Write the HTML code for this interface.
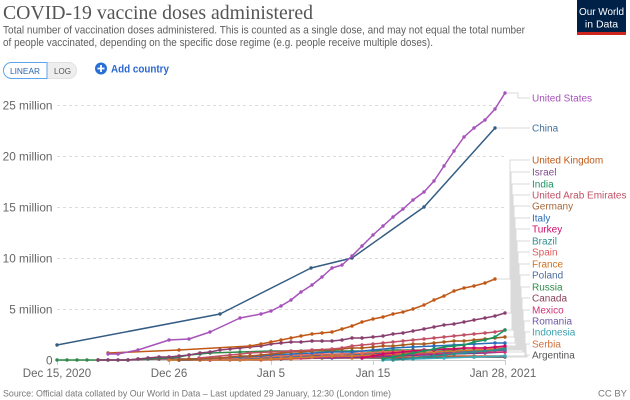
<!DOCTYPE html>
<html><head><meta charset="utf-8"><style>
html,body{margin:0;padding:0;background:#fff;}
svg{display:block;}
text{font-family:"Liberation Sans",sans-serif;}
</style></head><body>
<svg width="630" height="400" viewBox="0 0 630 400" xmlns="http://www.w3.org/2000/svg">
<defs>
<marker id="m1" markerWidth="4" markerHeight="4" refX="2" refY="2" markerUnits="userSpaceOnUse"><circle cx="2" cy="2" r="1.7" fill="#a652ba"/></marker>
<marker id="m2" markerWidth="4" markerHeight="4" refX="2" refY="2" markerUnits="userSpaceOnUse"><circle cx="2" cy="2" r="1.7" fill="#345d83"/></marker>
<marker id="m3" markerWidth="4" markerHeight="4" refX="2" refY="2" markerUnits="userSpaceOnUse"><circle cx="2" cy="2" r="1.7" fill="#c05917"/></marker>
<marker id="m4" markerWidth="4" markerHeight="4" refX="2" refY="2" markerUnits="userSpaceOnUse"><circle cx="2" cy="2" r="1.7" fill="#883f6f"/></marker>
<marker id="m5" markerWidth="4" markerHeight="4" refX="2" refY="2" markerUnits="userSpaceOnUse"><circle cx="2" cy="2" r="1.7" fill="#1a9460"/></marker>
<marker id="m6" markerWidth="4" markerHeight="4" refX="2" refY="2" markerUnits="userSpaceOnUse"><circle cx="2" cy="2" r="1.7" fill="#c15065"/></marker>
<marker id="m7" markerWidth="4" markerHeight="4" refX="2" refY="2" markerUnits="userSpaceOnUse"><circle cx="2" cy="2" r="1.7" fill="#a95a1e"/></marker>
<marker id="m8" markerWidth="4" markerHeight="4" refX="2" refY="2" markerUnits="userSpaceOnUse"><circle cx="2" cy="2" r="1.7" fill="#286bbb"/></marker>
<marker id="m9" markerWidth="4" markerHeight="4" refX="2" refY="2" markerUnits="userSpaceOnUse"><circle cx="2" cy="2" r="1.7" fill="#cf0a66"/></marker>
<marker id="m10" markerWidth="4" markerHeight="4" refX="2" refY="2" markerUnits="userSpaceOnUse"><circle cx="2" cy="2" r="1.7" fill="#2f8f8f"/></marker>
<marker id="m11" markerWidth="4" markerHeight="4" refX="2" refY="2" markerUnits="userSpaceOnUse"><circle cx="2" cy="2" r="1.7" fill="#e56e5a"/></marker>
<marker id="m12" markerWidth="4" markerHeight="4" refX="2" refY="2" markerUnits="userSpaceOnUse"><circle cx="2" cy="2" r="1.7" fill="#d57c2e"/></marker>
<marker id="m13" markerWidth="4" markerHeight="4" refX="2" refY="2" markerUnits="userSpaceOnUse"><circle cx="2" cy="2" r="1.7" fill="#4c6a9c"/></marker>
<marker id="m14" markerWidth="4" markerHeight="4" refX="2" refY="2" markerUnits="userSpaceOnUse"><circle cx="2" cy="2" r="1.7" fill="#2e8b4a"/></marker>
<marker id="m15" markerWidth="4" markerHeight="4" refX="2" refY="2" markerUnits="userSpaceOnUse"><circle cx="2" cy="2" r="1.7" fill="#8a3f5a"/></marker>
<marker id="m16" markerWidth="4" markerHeight="4" refX="2" refY="2" markerUnits="userSpaceOnUse"><circle cx="2" cy="2" r="1.7" fill="#d42d73"/></marker>
<marker id="m17" markerWidth="4" markerHeight="4" refX="2" refY="2" markerUnits="userSpaceOnUse"><circle cx="2" cy="2" r="1.7" fill="#6d3e91"/></marker>
<marker id="m18" markerWidth="4" markerHeight="4" refX="2" refY="2" markerUnits="userSpaceOnUse"><circle cx="2" cy="2" r="1.7" fill="#38aaba"/></marker>
<marker id="m19" markerWidth="4" markerHeight="4" refX="2" refY="2" markerUnits="userSpaceOnUse"><circle cx="2" cy="2" r="1.7" fill="#d0623a"/></marker>
<marker id="m20" markerWidth="4" markerHeight="4" refX="2" refY="2" markerUnits="userSpaceOnUse"><circle cx="2" cy="2" r="1.7" fill="#4a4a4a"/></marker>
</defs>

<!-- Header -->
<text x="3" y="19" font-family="Liberation Serif, serif" style="font-family:'Liberation Serif',serif" font-size="20" fill="#555" textLength="310" lengthAdjust="spacingAndGlyphs">COVID-19 vaccine doses administered</text>
<text x="3" y="33.5" font-size="11" fill="#5e5e5e" textLength="522" lengthAdjust="spacingAndGlyphs">Total number of vaccination doses administered. This is counted as a single dose, and may not equal the total number</text>
<text x="3" y="46" font-size="11" fill="#5e5e5e" textLength="430" lengthAdjust="spacingAndGlyphs">of people vaccinated, depending on the specific dose regime (e.g. people receive multiple doses).</text>

<!-- Logo -->
<rect x="577" y="0" width="49" height="35" fill="#002147"/>
<rect x="577" y="32" width="49" height="3" fill="#ce261e"/>
<text x="601.5" y="15" font-size="10.5" fill="#fff" text-anchor="middle" textLength="45" lengthAdjust="spacingAndGlyphs">Our World</text>
<text x="601.5" y="27.5" font-size="10.5" fill="#fff" text-anchor="middle">in Data</text>

<!-- Toggle -->
<rect x="3.5" y="62.5" width="73" height="16" rx="8" fill="#eeeeee" stroke="#e0e0e0"/>
<path d="M47,62.5 H11.5 A8,8 0 0 0 11.5,78.5 H47 Z" fill="#fff" stroke="#5fa4ea" stroke-width="1"/>
<text x="10" y="74" font-size="8.5" fill="#2c66b4" textLength="30" lengthAdjust="spacingAndGlyphs">LINEAR</text>
<text x="54" y="74" font-size="8.5" fill="#555" textLength="17" lengthAdjust="spacingAndGlyphs">LOG</text>

<!-- Add country -->
<circle cx="101" cy="68.5" r="6" fill="#2a6fd6"/>
<path d="M97.5,68.5 H104.5 M101,65 V72" stroke="#fff" stroke-width="1.8"/>
<text x="111" y="72.5" font-size="11" font-weight="bold" fill="#2b68d0" textLength="58" lengthAdjust="spacingAndGlyphs">Add country</text>

<!-- Grid -->
<g stroke="#dcdcdc" stroke-width="1" stroke-dasharray="3,3">
<line x1="57" y1="105.5" x2="504" y2="105.5"/>
<line x1="57" y1="156.5" x2="504" y2="156.5"/>
<line x1="57" y1="207.5" x2="504" y2="207.5"/>
<line x1="57" y1="258.5" x2="504" y2="258.5"/>
<line x1="57" y1="309.5" x2="504" y2="309.5"/>
</g>
<line x1="57" y1="360.5" x2="505" y2="360.5" stroke="#ccc"/>
<g stroke="#ccc">
<line x1="57.5" y1="360" x2="57.5" y2="365"/>
<line x1="169.5" y1="360" x2="169.5" y2="365"/>
<line x1="271.5" y1="360" x2="271.5" y2="365"/>
<line x1="373.5" y1="360" x2="373.5" y2="365"/>
<line x1="505.5" y1="360" x2="505.5" y2="365"/>
</g>

<!-- Y labels -->
<g font-size="11.8" fill="#666" text-anchor="end">
<text x="52.5" y="109.5">25 million</text>
<text x="52.5" y="160.5">20 million</text>
<text x="52.5" y="211.5">15 million</text>
<text x="52.5" y="262.5">10 million</text>
<text x="52.5" y="313.5">5 million</text>
<text x="52.5" y="364.5">0</text>
</g>
<!-- X labels -->
<g font-size="11.5" fill="#666" text-anchor="middle">
<text x="57" y="377">Dec 15, 2020</text>
<text x="169" y="377">Dec 26</text>
<text x="271" y="377">Jan 5</text>
<text x="373" y="377">Jan 15</text>
<text x="503" y="377">Jan 28, 2021</text>
</g>

<!-- Connectors -->
<g fill="none" stroke="#dadada" stroke-width="1">
<path d="M507,93 H518 V98 H530"/>
<path d="M497,128 H530"/>
<path d="M497,279 H510 V160 H530"/>
<path d="M507,313 H511 V172 H530"/>
<path d="M507,330 H512 V184 H530"/>
<path d="M507,330 H513 V195 H530"/>
<path d="M507,337 H514 V206 H530"/>
<path d="M507,343 H515 V218 H530"/>
<path d="M507,346 H516 V229 H530"/>
<path d="M507,348 H517 V241 H530"/>
<path d="M507,347 H518 V252 H530"/>
<path d="M507,348 H519 V264 H530"/>
<path d="M507,350 H520 V275 H530"/>
<path d="M507,349 H521 V287 H530"/>
<path d="M507,350 H522 V298 H530"/>
<path d="M507,352 H523 V310 H530"/>
<path d="M507,352 H524 V321 H530"/>
<path d="M507,356 H525 V332 H530"/>
<path d="M507,356 H526 V344 H530"/>
<path d="M507,357 H527 V355 H530"/>
</g>

<!-- Series -->
<g fill="none" stroke-width="1.5" stroke-linejoin="round">
<polyline stroke="#4a4a4a" marker-start="url(#m20)" marker-mid="url(#m20)" marker-end="url(#m20)" points="200,360 240,359 281,359 322,358 362,358 403,358 444,357 474,357 505,357"/>
<polyline stroke="#d0623a" marker-start="url(#m19)" marker-mid="url(#m19)" marker-end="url(#m19)" points="230,360 261,360 291,359 322,358 352,358 383,357 413,357 444,356 474,356 505,356"/>
<polyline stroke="#38aaba" marker-start="url(#m18)" marker-mid="url(#m18)" marker-end="url(#m18)" points="383,360 413,359 444,358 474,357 505,356"/>
<polyline stroke="#6d3e91" marker-start="url(#m17)" marker-mid="url(#m17)" marker-end="url(#m17)" points="179,360 210,360 240,360 271,359 301,358 332,358 362,357 393,356 424,355 454,354 485,353 505,352"/>
<polyline stroke="#d42d73" marker-start="url(#m16)" marker-mid="url(#m16)" marker-end="url(#m16)" points="179,360 210,360 240,359 271,359 301,358 332,357 362,356 393,355 424,354 454,353 485,352 505,352"/>
<polyline stroke="#8a3f5a" marker-start="url(#m15)" marker-mid="url(#m15)" marker-end="url(#m15)" points="98,360 128,360 159,359 189,359 220,358 250,357 281,356 312,355 342,354 373,353 403,352 434,352 464,351 505,350"/>
<polyline stroke="#2e8b4a" marker-start="url(#m14)" marker-mid="url(#m14)" marker-end="url(#m14)" points="57,360 67,360 77,360 87,360 98,360 108,360 118,360 128,360 138,359 148,359 159,358 169,358 179,357 189,355 200,354 210,353 240,352 271,351 301,351 332,351 352,351 373,351 393,350 413,350 434,350 454,350 474,350 495,350 505,349"/>
<polyline stroke="#4c6a9c" marker-start="url(#m13)" marker-mid="url(#m13)" marker-end="url(#m13)" points="169,360 200,360 230,359 261,358 291,357 322,356 352,355 383,354 413,353 444,352 474,351 505,350"/>
<polyline stroke="#d57c2e" marker-start="url(#m12)" marker-mid="url(#m12)" marker-end="url(#m12)" points="169,360 200,360 240,360 271,359 291,358 312,357 332,356 352,356 373,355 393,354 413,353 434,352 454,351 474,350 495,349 505,348"/>
<polyline stroke="#e56e5a" marker-start="url(#m11)" marker-mid="url(#m11)" marker-end="url(#m11)" points="179,360 200,359 220,359 240,358 261,357 281,356 301,355 322,354 342,354 362,353 383,352 403,351 424,350 444,349 464,348 485,348 505,347"/>
<polyline stroke="#2f8f8f" marker-start="url(#m10)" marker-mid="url(#m10)" marker-end="url(#m10)" points="393,360 403,359 413,358 424,357 434,356 444,355 454,354 464,353 474,352 485,351 495,350 505,348"/>
<polyline stroke="#cf0a66" marker-start="url(#m9)" marker-mid="url(#m9)" marker-end="url(#m9)" points="362,358 373,356 383,354 393,353 403,352 413,351 424,350 434,350 444,349 454,349 464,348 474,348 485,348 495,347 505,346"/>
<polyline stroke="#286bbb" marker-start="url(#m8)" marker-mid="url(#m8)" marker-end="url(#m8)" points="179,360 200,359 220,358 240,357 261,356 271,355 291,354 312,353 332,352 352,352 373,350 393,348 413,347 434,346 454,345 474,344 495,343 505,343"/>
<polyline stroke="#a95a1e" marker-start="url(#m7)" marker-mid="url(#m7)" marker-end="url(#m7)" points="179,360 189,359 200,359 210,358 220,358 230,357 240,356 250,356 261,355 271,354 281,353 291,352 301,352 312,351 322,350 332,350 342,349 352,348 362,348 373,347 383,346 393,346 403,345 413,344 424,344 434,343 444,342 454,341 464,341 474,340 485,339 495,338 505,337"/>
<polyline stroke="#c15065" marker-start="url(#m6)" marker-mid="url(#m6)" marker-end="url(#m6)" points="199,358 230,355 250,353 271,352 291,351 312,350 332,349 342,348 352,346 362,345 373,344 383,343 393,342 403,341 413,340 424,339 434,338 444,337 454,336 464,335 474,334 485,333 495,332 505,330"/>
<polyline stroke="#1a9460" marker-start="url(#m5)" marker-mid="url(#m5)" marker-end="url(#m5)" points="383,359 393,357 403,355 413,353 424,351 434,349 444,347 454,346 464,345 474,342 485,340 495,337 505,330"/>
<polyline stroke="#883f6f" marker-start="url(#m4)" marker-mid="url(#m4)" marker-end="url(#m4)" points="98,360 108,360 118,360 128,360 138,359 148,358 159,357 169,357 179,356 189,355 200,353 210,352 220,350 230,349 240,348 250,347 261,346 271,344 281,343 291,342 301,342 312,341 322,341 332,341 342,340 352,338 362,338 373,337 383,336 393,334 403,333 413,331 424,329 434,327 444,325 454,324 464,322 474,320 485,318 495,316 505,313"/>
<polyline stroke="#c05917" marker-start="url(#m3)" marker-mid="url(#m3)" marker-end="url(#m3)" points="108,353 179,350 250,346 261,344 271,342 281,340 291,338 301,336 312,334 322,333 332,332 342,329 352,326 362,322 373,319 383,317 393,314 403,312 413,309 424,305 434,300 444,296 454,291 464,288 474,286 485,283 495,279"/>
<polyline stroke="#345d83" marker-start="url(#m2)" marker-mid="url(#m2)" marker-end="url(#m2)" points="57,345 220,314 311,268 352,258 424,207 495,128"/>
<polyline stroke="#a652ba" marker-start="url(#m1)" marker-mid="url(#m1)" marker-end="url(#m1)" points="108,354 118,354 138,350 169,340 189,339 210,332 240,318 261,314 271,311 281,306 291,300 301,292 312,285 322,277 332,268 342,265 352,256 362,246 373,235 383,226 393,217 403,209 413,200 424,192 434,181 444,166 454,151 464,137 474,128 485,120 495,109 505,93"/>
</g>

<!-- Series labels -->
<g font-size="10">
<text x="532" y="101.5" fill="#a652ba">United States</text>
<text x="532" y="131.5" fill="#3f6f9c">China</text>
<text x="532" y="163.5" fill="#c05917">United Kingdom</text>
<text x="532" y="175.5" fill="#7d4a8c">Israel</text>
<text x="532" y="187.5" fill="#1a9460">India</text>
<text x="532" y="198.5" fill="#c15065">United Arab Emirates</text>
<text x="532" y="209.5" fill="#a8673a">Germany</text>
<text x="532" y="221.5" fill="#286bbb">Italy</text>
<text x="532" y="232.5" fill="#cf0a66">Turkey</text>
<text x="532" y="244.5" fill="#2f8f8f">Brazil</text>
<text x="532" y="255.5" fill="#e05a5a">Spain</text>
<text x="532" y="267.5" fill="#d07020">France</text>
<text x="532" y="278.5" fill="#4c6a9c">Poland</text>
<text x="532" y="290.5" fill="#2e8b4a">Russia</text>
<text x="532" y="301.5" fill="#8a3f5a">Canada</text>
<text x="532" y="313.5" fill="#d42d73">Mexico</text>
<text x="532" y="324.5" fill="#6d58a8">Romania</text>
<text x="532" y="335.5" fill="#38a0b0">Indonesia</text>
<text x="532" y="347.5" fill="#d0703a">Serbia</text>
<text x="532" y="358.5" fill="#555">Argentina</text>
</g>

<!-- Footer -->
<text x="3" y="396.5" font-size="9.5" fill="#777" textLength="388" lengthAdjust="spacingAndGlyphs">Source: Official data collated by Our World in Data – Last updated 29 January, 12:30 (London time)</text>
<text x="627" y="396.5" font-size="9.5" fill="#777" text-anchor="end">CC BY</text>
</svg>
</body></html>
